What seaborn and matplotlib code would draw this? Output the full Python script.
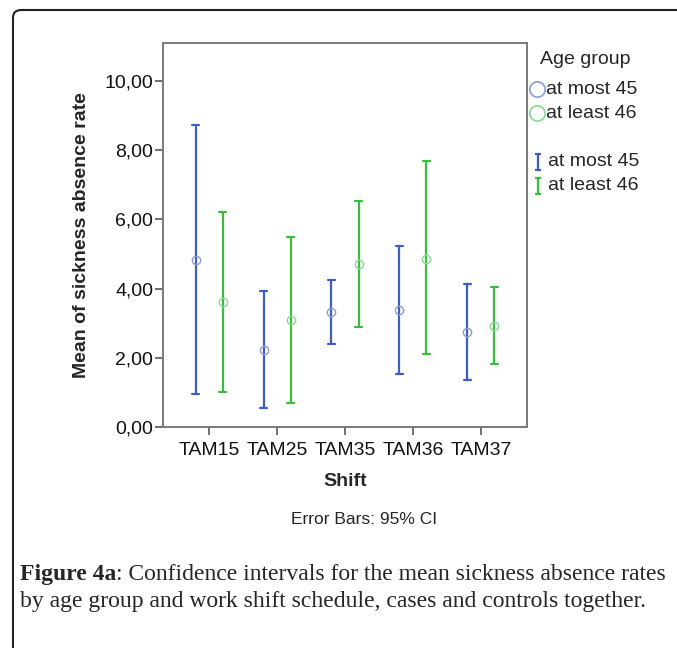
import pandas as pd
import matplotlib.pyplot as plt
import seaborn as sns
from matplotlib.lines import Line2D
from matplotlib.patches import FancyBboxPatch
from matplotlib.path import Path

# values (mean and 95% CI limits)
shifts = ['TAM15', 'TAM25', 'TAM35', 'TAM36', 'TAM37']
age_groups = ['at most 45', 'at least 46']
mean_young = [4.84, 2.24, 3.31, 3.38, 2.75]
low_young = [0.96, 0.55, 2.39, 1.54, 1.37]
high_young = [8.73, 3.93, 4.26, 5.23, 4.12]
mean_old = [3.62, 3.09, 4.71, 4.87, 2.92]
low_old = [1.01, 0.70, 2.90, 2.11, 1.81]
high_old = [6.22, 5.50, 6.54, 7.68, 4.04]
y_ticks = [0, 2, 4, 6, 8, 10]
y_ticklabels = ['0,00', '2,00', '4,00', '6,00', '8,00', '10,00']

bar_colors = ['#3F5DBE', '#3CBC3F']
ring_colors = ['#8C9BD3', '#86D98F']

# long form: lower, mean, upper per cell -> median gives the mean, 100% interval gives the CI
rows = []
for grp, m, lo, hi in [(age_groups[0], mean_young, low_young, high_young),
                       (age_groups[1], mean_old, low_old, high_old)]:
    for s, a, b, c in zip(shifts, lo, m, hi):
        for v in (a, b, c):
            rows.append({'Shift': s, 'Age group': grp, 'Rate': v})
df = pd.DataFrame(rows)

sns.set_style('ticks')
plt.rcParams['font.family'] = ['Liberation Sans', 'DejaVu Sans']

fig = plt.figure(figsize=(6.77, 6.48), dpi=100)
ax = fig.add_axes([163 / 677, 1 - 427 / 648, 364 / 677, 384 / 648])

sns.pointplot(data=df, x='Shift', y='Rate', hue='Age group', order=shifts,
              hue_order=age_groups, palette=bar_colors, estimator='median',
              errorbar=('pi', 100), dodge=0.4, linestyle='none', markers='o',
              capsize=0.1, err_kws={'linewidth': 1.6}, markersize=6,
              legend=False, ax=ax)

# hollow, lighter rings for the means
for line in ax.lines:
    if line.get_marker() == 'o':
        c = line.get_color()
        idx = 0 if str(c).lower() == bar_colors[0].lower() else 1
        line.set_markerfacecolor('none')
        line.set_markeredgecolor(ring_colors[idx])
        line.set_markeredgewidth(1.0)
        line.set_zorder(5)

ax.set_ylim(0, 11.1)
ax.set_xlim(-0.68, 4.68)
ax.set_yticks(y_ticks)
ax.set_yticklabels(y_ticklabels)
ax.tick_params(axis='both', labelsize=14, length=6, width=1.2, color='#555555',
               labelcolor='#111111')
ax.tick_params(axis='y', pad=1)
ax.tick_params(axis='x', pad=5)
for sp in ax.spines.values():
    sp.set_visible(True)
    sp.set_color('#7a7a7a')
    sp.set_linewidth(1.4)
ax.set_xlabel('Shift', fontsize=14, fontweight='bold', va='center')
ax.xaxis.set_label_coords(0.5, (427 - 482) / 384)
ax.set_ylabel('Mean of sickness absence rate', fontsize=14, fontweight='bold',
              va='center')
ax.yaxis.set_label_coords((82 - 163) / 364, 0.5)

# legend drawn by hand to match the SPSS layout
fig.text(540 / 677, 1 - 60 / 648, 'Age group', fontsize=14, va='center', ha='left')
for i, grp in enumerate(age_groups):
    y = 1 - (89 + 24 * i) / 648
    fig.add_artist(Line2D([537 / 677], [y], marker='o', markersize=11,
                          markerfacecolor='none', markeredgecolor=ring_colors[i],
                          markeredgewidth=1.2, linestyle='none'))
    fig.text(546 / 677, y, grp, fontsize=14, va='center', ha='left')

cap_path = Path([(-0.45, -1), (0.45, -1), (0, -1), (0, 1), (-0.45, 1), (0.45, 1)],
                [Path.MOVETO, Path.LINETO, Path.MOVETO, Path.LINETO, Path.MOVETO, Path.LINETO])
for i, grp in enumerate(age_groups):
    y = 1 - (162 + 24 * i) / 648
    fig.add_artist(Line2D([538 / 677], [y], marker=cap_path, markersize=11,
                          markerfacecolor='none', markeredgecolor=bar_colors[i],
                          markeredgewidth=1.6, linestyle='none'))
    fig.text(548 / 677, y, grp, fontsize=14, va='center', ha='left')

fig.text(364 / 677, 1 - 520 / 648, 'Error Bars: 95% CI', fontsize=12.5,
         ha='center', va='center')

# caption
cap_font = ['Liberation Serif', 'DejaVu Serif']
t1 = fig.text(20 / 677, 1 - 585 / 648, 'Figure 4a', fontsize=17,
              fontweight='bold', family=cap_font, va='bottom', ha='left')
ax.annotate(': Confidence intervals for the mean sickness absence rates',
            xy=(1, 0), xycoords=t1, fontsize=17, family=cap_font,
            va='bottom', ha='left', annotation_clip=False)
fig.text(20 / 677, 1 - 612 / 648,
         'by age group and work shift schedule, cases and controls together.',
         fontsize=17, family=cap_font, va='bottom', ha='left')

# rounded outer frame
frame = FancyBboxPatch((13 / 677, -0.05), 1.0, 1.05 - 10 / 648,
                       boxstyle='round,pad=0,rounding_size=0.012',
                       transform=fig.transFigure, facecolor='none',
                       edgecolor='#222222', linewidth=1.5, clip_on=False)
fig.add_artist(frame)

fig.savefig('out.png', dpi=100)
